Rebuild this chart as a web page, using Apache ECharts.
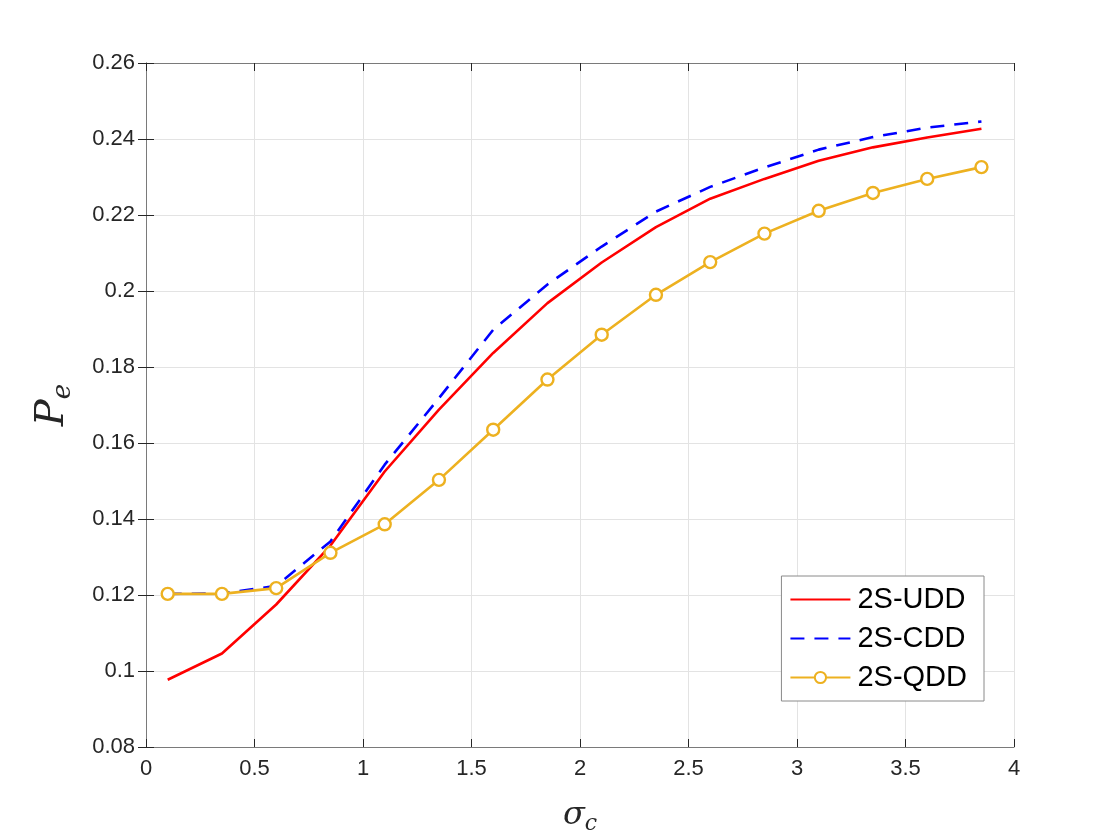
<!DOCTYPE html>
<html>
<head>
<meta charset="utf-8">
<script src="https://cdn.jsdelivr.net/npm/echarts@6/dist/echarts.min.js"></script>
<style>
  html, body { margin: 0; padding: 0; background: #fff; }
  #chart { width: 1120px; height: 840px; }
</style>
</head>
<body>
<div id="chart"></div>
<script>
// sigma_c 取值
const sigmaC = [0.1, 0.35, 0.6, 0.85, 1.1, 1.35, 1.6, 1.85, 2.1, 2.35, 2.6, 2.85, 3.1, 3.35, 3.6, 3.85]
// 各方案的 Pe
const udd = [0.0977, 0.1046, 0.1175, 0.1330, 0.1525, 0.1688, 0.1837, 0.1968, 0.2075, 0.2168, 0.2243, 0.2295, 0.2343, 0.2378, 0.2404, 0.2427]
const cdd = [0.1203, 0.1204, 0.1224, 0.1341, 0.1543, 0.1718, 0.1898, 0.2017, 0.2117, 0.2209, 0.2274, 0.2325, 0.2372, 0.2405, 0.2430, 0.2446]
const qdd = [0.1203, 0.1203, 0.1218, 0.1311, 0.1386, 0.1503, 0.1635, 0.1767, 0.1885, 0.1990, 0.2076, 0.2151, 0.2211, 0.2258, 0.2295, 0.2326]
const legendNames = ['2S-UDD', '2S-CDD', '2S-QDD']

const pairs = arr => sigmaC.map((x, i) => [x, arr[i]])

const chart = echarts.init(document.getElementById('chart'))
const tickFont = { color: '#262626', fontSize: 22, fontFamily: 'Liberation Sans, Arial, sans-serif' }
const gridLine = { show: true, lineStyle: { color: '#e3e3e3', width: 1 } }
const axisLine = { show: true, lineStyle: { color: '#7a7a7a', width: 1 } }
const tick = { inside: true, length: 8, lineStyle: { color: '#262626' } }

const option = {
  animation: false,
  // 绘图区与参考图对齐，不让标签挤压网格
  grid: { left: 146, right: 106, top: 63, bottom: 93, outerBoundsMode: 'none' },
  xAxis: [
    {
      type: 'value', min: 0, max: 4, interval: 0.5,
      axisLine: axisLine,
      axisTick: tick,
      axisLabel: Object.assign({ margin: 11 }, tickFont),
      splitLine: gridLine,
      name: '{s|σ}{c|c}',
      nameLocation: 'middle',
      nameGap: 50,
      nameTextStyle: {
        rich: {
          s: { fontFamily: 'DejaVu Serif, serif', fontStyle: 'italic', fontSize: 32, color: '#262626' },
          c: { fontFamily: 'DejaVu Serif, serif', fontStyle: 'italic', fontSize: 22, color: '#262626', padding: [16, 0, 0, 0] }
        }
      }
    },
    {
      type: 'value', position: 'top', min: 0, max: 4, interval: 0.5,
      axisLine: axisLine,
      axisTick: tick,
      axisLabel: { show: false },
      splitLine: { show: false }
    }
  ],
  yAxis: [
    {
      type: 'value', min: 0.08, max: 0.26, interval: 0.02,
      axisLine: axisLine,
      axisTick: tick,
      axisLabel: Object.assign({ margin: 11, formatter: v => String(+v.toFixed(2)) }, tickFont),
      splitLine: gridLine,
      name: '{p|P}{e|e}',
      nameLocation: 'middle',
      nameGap: 70,
      nameRotate: 90,
      nameTextStyle: {
        rich: {
          p: { fontFamily: 'DejaVu Serif, serif', fontStyle: 'italic', fontSize: 40, color: '#262626' },
          e: { fontFamily: 'DejaVu Serif, serif', fontStyle: 'italic', fontSize: 26, color: '#262626', padding: [20, 0, 0, 0] }
        }
      }
    },
    {
      type: 'value', position: 'right', min: 0.08, max: 0.26, interval: 0.02,
      axisLine: axisLine,
      axisTick: tick,
      axisLabel: { show: false },
      splitLine: { show: false }
    }
  ],
  legend: {
    orient: 'vertical',
    right: 136,
    top: 576,
    padding: [9, 17, 9, 8],
    itemWidth: 60,
    itemHeight: 14,
    itemGap: 10,
    backgroundColor: '#fff',
    borderColor: '#8a8a8a',
    borderWidth: 1,
    textStyle: { fontSize: 29, color: '#000', fontFamily: 'Liberation Sans, Arial, sans-serif', padding: [0, 0, 0, 2] },
    data: [
      { name: legendNames[0], itemStyle: { opacity: 0 } },
      { name: legendNames[1], itemStyle: { opacity: 0 } },
      { name: legendNames[2] }
    ]
  },
  series: [
    {
      name: legendNames[0], type: 'line', data: pairs(udd),
      showSymbol: false, symbol: 'none',
      lineStyle: { color: '#ff0000', width: 2.6 },
      itemStyle: { color: '#ff0000' }
    },
    {
      name: legendNames[1], type: 'line', data: pairs(cdd),
      showSymbol: false, symbol: 'none',
      lineStyle: { color: '#0000ff', width: 2.6, type: [14, 10] },
      itemStyle: { color: '#0000ff' }
    },
    {
      name: legendNames[2], type: 'line', data: pairs(qdd),
      symbol: 'circle', symbolSize: 12,
      lineStyle: { color: '#edb120', width: 2.6 },
      itemStyle: { color: '#fff', borderColor: '#edb120', borderWidth: 2.4 }
    }
  ]
}
chart.setOption(option)
</script>
</body>
</html>
